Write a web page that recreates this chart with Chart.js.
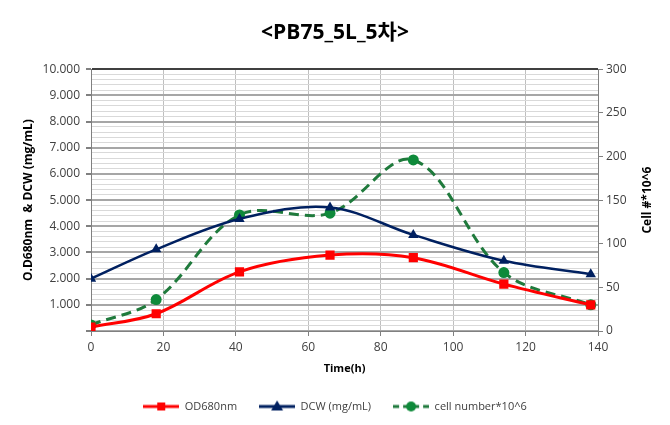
<!DOCTYPE html>
<html lang="ko">
<head>
<meta charset="UTF-8">
<title>PB75_5L_5차</title>
<script src="https://cdn.jsdelivr.net/npm/chart.js"></script>
<style>
    html, body { margin: 0; padding: 0; background: #fff; }
    #wrap { width: 670px; height: 425px; position: relative; }
</style>
</head>
<body>
<div id="wrap"><canvas id="chart" width="670" height="425"></canvas></div>
<script>
    // data
    const timeH = [0, 18, 41, 66, 89, 114, 138];
    const od680 = [0.15, 0.66, 2.26, 2.90, 2.80, 1.79, 1.00];
    const dcw = [2.00, 3.12, 4.28, 4.72, 3.67, 2.68, 2.17];
    const cellNumber = [7, 36, 133, 135, 196, 67, 30];

    const seriesNames = ['OD680nm', 'DCW (mg/mL)', 'cell number*10^6'];
    const rightTitle = 'Cell #*10^6';
    const FONT = "'Open Sans', 'Noto Sans CJK KR', sans-serif";

    const toPoints = vals => vals.map((v, i) => ({ x: timeH[i], y: v }));

    // little line+marker swatches for the legend
    function swatch(color, lineColor, shape, dash) {
        const c = document.createElement('canvas');
        c.width = 36; c.height = 14;
        const g = c.getContext('2d');
        g.strokeStyle = lineColor;
        g.lineWidth = 3;
        if (dash) g.setLineDash(dash);
        g.beginPath(); g.moveTo(0, 7); g.lineTo(36, 7); g.stroke();
        g.setLineDash([]);
        g.fillStyle = color;
        g.beginPath();
        if (shape === 'rect') g.rect(14, 3, 8, 8);
        else if (shape === 'triangle') { g.moveTo(18, 1); g.lineTo(24, 11); g.lineTo(12, 11); g.closePath(); }
        else g.arc(18, 7, 5, 0, Math.PI * 2);
        g.fill();
        return c;
    }
    const swatches = [
        swatch('#FF0000', '#FF0000', 'rect'),
        swatch('#002060', '#002060', 'triangle'),
        swatch('#0E8A3A', '#1F7A3C', 'circle', [6, 4])
    ];

    // right axis title reads bottom-to-top like Excel's
    const rightTitlePlugin = {
        id: 'rightTitle',
        afterDraw(chart) {
            const { ctx, chartArea } = chart;
            ctx.save();
            ctx.translate(648, (chartArea.top + chartArea.bottom) / 2);
            ctx.rotate(-Math.PI / 2);
            ctx.font = 'bold 12px ' + FONT;
            ctx.fillStyle = '#000';
            ctx.textAlign = 'center';
            ctx.textBaseline = 'middle';
            ctx.fillText(rightTitle, 0, 0);
            ctx.restore();
        }
    };

    new Chart(document.getElementById('chart'), {
        type: 'line',
        data: {
            datasets: [
                {
                    label: seriesNames[0], data: toPoints(od680), yAxisID: 'y',
                    borderColor: '#FF0000', backgroundColor: '#FF0000', borderWidth: 3,
                    pointStyle: 'rect', pointRadius: 6.5, pointBorderWidth: 0, tension: 0.35, order: 1
                },
                {
                    label: seriesNames[1], data: toPoints(dcw), yAxisID: 'y',
                    borderColor: '#002060', backgroundColor: '#002060', borderWidth: 2.5,
                    pointStyle: 'triangle', pointRadius: 6, pointBorderWidth: 0, tension: 0.35, order: 2
                },
                {
                    label: seriesNames[2], data: toPoints(cellNumber), yAxisID: 'y2',
                    borderColor: '#1F7A3C', backgroundColor: '#0E8A3A', borderWidth: 3,
                    borderDash: [10, 6], pointStyle: 'circle', pointRadius: 5.5, pointBorderWidth: 0,
                    tension: 0.35, order: 3
                }
            ]
        },
        plugins: [rightTitlePlugin],
        options: {
            responsive: false,
            animation: false,
            layout: { padding: { left: 0, right: 0, top: 0, bottom: 3 } },
            plugins: {
                title: {
                    display: true, text: '<PB75_5L_5차>', color: '#000',
                    font: { family: FONT, size: 21, weight: 'bold' },
                    padding: { top: 20, bottom: 24 }
                },
                legend: {
                    position: 'bottom',
                    labels: {
                        usePointStyle: true, pointStyleWidth: 36, padding: 22,
                        color: '#404040', font: { family: FONT, size: 11 },
                        generateLabels: chart => chart.data.datasets.map((ds, i) => ({
                            text: ds.label, pointStyle: swatches[i], datasetIndex: i,
                            fillStyle: ds.backgroundColor, strokeStyle: ds.borderColor,
                            lineWidth: 0, hidden: false, fontColor: '#404040'
                        }))
                    }
                },
                tooltip: { enabled: false }
            },
            scales: {
                x: {
                    type: 'linear', min: 0, max: 140,
                    ticks: { stepSize: 20, color: '#404040', font: { family: FONT, size: 12 }, padding: 4 },
                    grid: { color: '#BFBFBF', lineWidth: 1, tickLength: 5, tickColor: '#808080' },
                    border: { color: '#808080' },
                    title: { display: true, text: 'Time(h)', color: '#000', font: { family: FONT, size: 11, weight: 'bold' }, padding: { top: 2 } },
                    afterFit: s => { s.height = 48; }
                },
                y: {
                    position: 'left', min: 0, max: 10,
                    ticks: {
                        stepSize: 0.2, autoSkip: false, color: '#404040',
                        font: { family: FONT, size: 12 }, padding: 6,
                        callback: v => {
                            const r = Math.round(v * 10) / 10;
                            return (Number.isInteger(r) && r > 0) ? r.toFixed(3) : '';
                        }
                    },
                    grid: {
                        color: ctx => {
                            const v = Math.round(ctx.tick.value * 10) / 10;
                            if (v === 10) return '#404040';
                            return Number.isInteger(v) ? '#A6A6A6' : '#D9D9D9';
                        },
                        lineWidth: ctx => {
                            const v = Math.round(ctx.tick.value * 10) / 10;
                            return Number.isInteger(v) ? 2 : 1;
                        },
                        tickLength: 5,
                        tickColor: ctx => Number.isInteger(Math.round(ctx.tick.value * 10) / 10) ? '#808080' : 'rgba(0,0,0,0)'
                    },
                    border: { color: '#808080' },
                    title: { display: true, text: 'O.D680nm  & DCW (mg/mL)', color: '#000', font: { family: FONT, size: 12, weight: 'bold' }, padding: { top: 21, bottom: 0 } },
                    afterFit: s => { s.width = 91; }
                },
                y2: {
                    position: 'right', min: 0, max: 300,
                    ticks: { stepSize: 50, color: '#404040', font: { family: FONT, size: 12 }, padding: 3 },
                    grid: { drawOnChartArea: false, tickLength: 5, tickColor: '#808080' },
                    border: { color: '#808080' },
                    afterFit: s => { s.width = 72; }
                }
            }
        }
    });
</script>
</body>
</html>
